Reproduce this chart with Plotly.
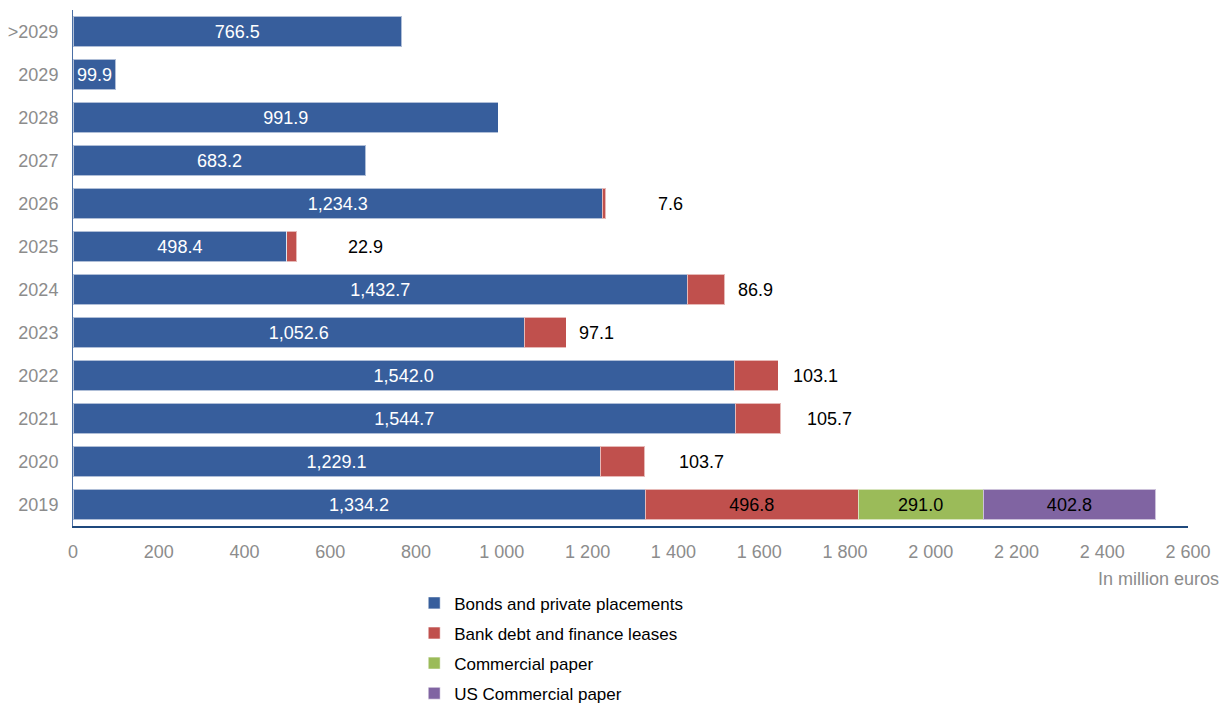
import plotly.graph_objects as go

years = ["2019", "2020", "2021", "2022", "2023", "2024", "2025", "2026", "2027", "2028", "2029", ">2029"]
bonds = [1334.2, 1229.1, 1544.7, 1542.0, 1052.6, 1432.7, 498.4, 1234.3, 683.2, 991.9, 99.9, 766.5]
bank = [496.8, 103.7, 105.7, 103.1, 97.1, 86.9, 22.9, 7.6, 0, 0, 0, 0]
cp = [291.0, 0, 0, 0, 0, 0, 0, 0, 0, 0, 0, 0]
uscp = [402.8, 0, 0, 0, 0, 0, 0, 0, 0, 0, 0, 0]

# pixel offsets of the outside labels for the bank-debt segment (2020..2026)
bank_label_shift = {"2020": 32, "2021": 24, "2022": 13, "2023": 11, "2024": 11, "2025": 49, "2026": 50}

BLUE = "#375E9C"
RED = "#C0504D"
GREEN = "#9BBB59"
PURPLE = "#8064A2"
FONT = "Liberation Sans, Arial, sans-serif"


def fmt(v):
    return f"{v:,.1f}"


def mk(name, vals, color, group, text, tcolor):
    return go.Bar(
        name=name, y=years, x=[v if v else None for v in vals], orientation="h",
        marker=dict(color=color, line=dict(color="rgba(255,255,255,0.6)", width=1)),
        text=text, textposition="inside", insidetextanchor="middle",
        textfont=dict(color=tcolor, size=18, family=FONT),
        legendgroup=group, hoverinfo="skip",
    )


fig = go.Figure()
fig.add_trace(mk("Bonds and private placements", bonds, BLUE, "a", [fmt(v) for v in bonds], "white"))
fig.add_trace(mk("Bank debt and finance leases", bank, RED, "b",
                 [fmt(v) if y == "2019" else "" for y, v in zip(years, bank)], "black"))
fig.add_trace(mk("Commercial paper", cp, GREEN, "c", [fmt(v) if v else "" for v in cp], "black"))
fig.add_trace(mk("US Commercial paper", uscp, PURPLE, "d", [fmt(v) if v else "" for v in uscp], "black"))

for i, (y, b, r) in enumerate(zip(years, bonds, bank)):
    if y in bank_label_shift and r:
        fig.add_annotation(x=b + r, y=i, xref="x", yref="y", text=fmt(r), showarrow=False,
                           xanchor="left", yanchor="middle",
                           xshift=bank_label_shift[y], font=dict(size=18, color="black", family=FONT))

fig.add_annotation(xref="paper", yref="paper", x=1, y=0, xanchor="right", yanchor="middle",
                   xshift=33, yshift=-53, text="In million euros", showarrow=False,
                   font=dict(size=18, color="#8C8C8C", family=FONT))

fig.update_layout(
    barmode="stack", bargap=0.28,
    width=1224, height=707,
    margin=dict(l=73, r=36, t=10, b=181, autoexpand=False),
    plot_bgcolor="white", paper_bgcolor="white",
    separators=". ",
    font=dict(family=FONT, size=16),
    uniformtext=dict(minsize=18, mode="show"),
    showlegend=True,
    legend=dict(orientation="v", x=0.306, y=-0.115, xanchor="left", yanchor="top",
                font=dict(size=17, color="black", family=FONT), tracegroupgap=5,
                traceorder="grouped"),
    xaxis=dict(range=[0, 2600], dtick=200, tickformat=",d", showgrid=False, zeroline=False,
               showline=True, linecolor="#1F497D", linewidth=2, ticks="", automargin=False,
               tickfont=dict(size=18, color="#8C8C8C"), ticklabelstandoff=8),
    yaxis=dict(type="category", showgrid=False, zeroline=False, showline=True,
               linecolor="#4A6FA5", linewidth=1, automargin=False,
               ticks="", tickfont=dict(size=18, color="#8C8C8C"), ticklabelstandoff=10,
               range=[-0.5, 11.5]),
)

fig.write_html("out.html")
